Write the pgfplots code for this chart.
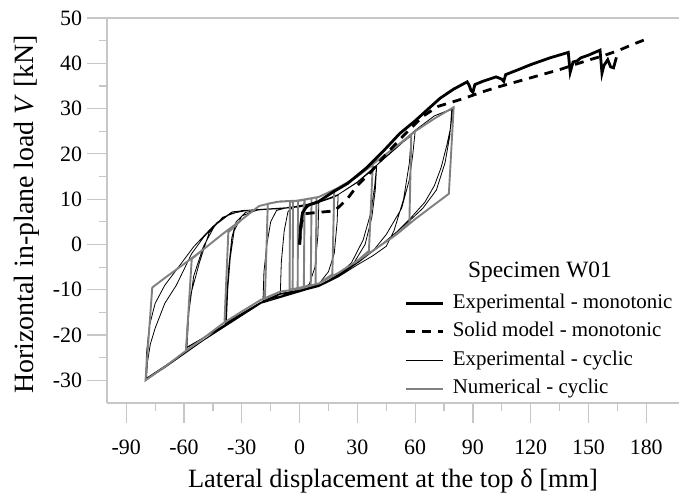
\documentclass[border=0pt]{standalone}
\usepackage{fontspec}
\setmainfont{Liberation Serif}
\usepackage{pgfplots}
\pgfplotsset{compat=1.18}
\definecolor{axgray}{gray}{0.78}
\definecolor{numgray}{gray}{0.5}
\begin{document}
\begin{tikzpicture}
\begin{axis}[
  name=ax,
  scale only axis, width=572bp, height=385bp,
  xmin=-100, xmax=197, ymin=-35, ymax=50,
  axis x line*=bottom, axis y line*=left,
  axis line style={axgray, line width=1.2bp, -},
  xtick={-90,-60,...,180}, ytick={-30,-20,...,50},
  minor x tick num=1, minor y tick num=1,
  tick align=outside,
  major tick length=19.5bp, minor tick length=8bp,
  tick style={axgray, line width=1.2bp},
  /pgf/number format/assume math mode=true,
  ticklabel style={font=\fontsize{22}{23}\selectfont},
  xticklabel style={yshift=-13.5bp},
  yticklabel style={xshift=-2bp},
  xlabel={Lateral displacement at the top δ [mm]},
  ylabel={Horizontal in-plane load \textit{V} [kN]},
  every axis x label/.style={at={(axis description cs:0.5,0)}, anchor=base, yshift=-84bp, font=\fontsize{26.5}{27}\selectfont},
  every axis y label/.style={at={(axis description cs:-0.1399,0.49)}, rotate=90, anchor=center, font=\fontsize{28}{29}\selectfont},
  legend style={draw=none, fill=none, at={(rel axis cs:0.521,0.283)}, anchor=north west,
    inner sep=0pt, outer sep=0pt, row sep=10bp, font=\fontsize{21}{22}\selectfont,
    nodes={inner sep=0pt, text height=14bp, text depth=4.5bp},
    /tikz/every odd column/.append style={column sep=8bp}},
  legend cell align=left,
  legend image code/.code={\draw[#1] (0bp,0bp) -- (37bp,0bp);},
]
% Experimental cyclic (thin black)
\addplot[black, line width=0.8bp, forget plot] coordinates {
(0,0) (1,7) (5,8.5) (10,9.2) (9.5,2) (8,-5) (5,-8.8) (0,-10) (-5,-10.4) (-10,-10.9)
(-9.5,-4) (-8,3) (-6,7.3) (-3,8.3) (0,8.6) (10,9.3) (17,10.3) (20,10.9)
(19.5,5) (18,-2) (15,-6) (10,-8.7) (0,-10.1) (-10,-10.8) (-19,-12.4)
(-18.5,-6) (-17,0) (-15,5) (-12,7.5) (-6,8.2) (0,8.5) (10,9.3) (20,11) (30,13.7) (40,17.2)
(39.3,12) (37.5,6) (34,0) (28,-4.2) (20,-7) (10,-9) (0,-10.2) (-10,-10.9) (-20,-12.8) (-30,-15.3) (-38.5,-17.5)
(-38,-12) (-36.8,-5) (-35.2,1.5) (-33,5) (-28,7.1) (-20,7.7) (-10,7.9) (0,8.3) (10,9.3) (20,11) (30,13.8) (40,17.4)
(39,13) (37,7) (33,1) (27,-4) (20,-6.8) (10,-9) (0,-10.1) (-20,-12.7) (-38,-17.2)
(-37.3,-10) (-36,-3) (-34,3) (-30,6.3) (-22,7.6) (0,8.3) (10,9.4) (20,11) (30,13.8) (40,17.5) (50,21.2) (60,25)
(58.8,20) (57,14.3) (53,8) (45,2.2) (38,-1.5) (31,-3.8) (20,-7) (10,-9.2) (0,-10.3) (-20,-13) (-40,-18) (-50,-20.6) (-59,-22.8)
(-58.3,-18) (-56.5,-11) (-52,-4) (-47,2.6) (-40,6) (-30,7.5) (-15,7.8) (0,8.3) (10,9.4) (20,11) (30,13.8) (40,17.5) (50,21.4) (58,24)
(57,18) (54,10) (49,3) (45,-0.4) (38,-2.5) (30,-4.5) (20,-7.2) (10,-9.3) (0,-10.4) (-20,-13) (-40,-18.1) (-58.5,-22.8)
(-57.5,-15) (-55,-7) (-50,-0.5) (-44,4.2) (-36,6.8) (-26,7.6) (0,8.3) (10,9.4) (20,11) (30,13.8) (40,17.5) (50,21.4) (60,25.2) (70,28.4) (79.5,30)
(78.5,26) (76.5,22) (73.5,17) (70,13) (65,9.3) (58,6) (50,2.6) (40,-0.9) (30,-4) (20,-7) (10,-9.2) (0,-10.4) (-10,-11) (-20,-13) (-30,-15.5) (-40,-18.2) (-50,-21.2) (-60,-24.2) (-70,-27.2) (-79.5,-29.8)
(-79,-26) (-77.5,-22) (-75,-18.5) (-70,-13) (-64,-9) (-56,-2) (-50,1.5) (-43,4.8) (-35,7.2) (-26,7.6) (-12,7.9) (0,8.3)
(10,9.4) (20,11) (30,13.8) (40,17.5) (50,21.4) (60,25.2) (70,28.4) (79,29.8)
(78,24) (75.5,18) (71,12) (64,8) (56,4.8) (45,0.8) (30,-4) (10,-9.2) (-20,-13) (-50,-21.2) (-79.8,-29.6)
(-79.5,-24) (-78,-18) (-75,-13) (-70,-9) (-62,-4.5) (-55,-0.5) (-45,4) (-38,6.3)
};
% Numerical cyclic (gray)
\addplot[numgray, line width=1.9bp, forget plot] coordinates {
(0,0) (2.6,9.9) (2.2,-9.5) (-1,-9.7) (-0.8,9.6) (6.2,10.2) (5.8,-9.1) (-3.6,-9.9) (-3.4,9.5)
(8.8,10.4) (8.3,-8.8) (-5.2,-10) (-5,9.4) (10,10.5) (18,12.1)
(17,-6.6) (10,-8.6) (0,-9.8) (-10,-10.4) (-18,-12) (-16.5,9) (-10,9.5) (0,9.7) (10,10.5) (20,12.5) (30,15) (38,17.6)
(36,-1.4) (30,-3.6) (20,-6.3) (10,-8.6) (0,-9.8) (-10,-10.4) (-20,-12.2) (-30,-14.8) (-39,-17.2)
(-37,2.7) (-30,5.5) (-21,8.5) (-12,9.4) (0,9.7) (10,10.5) (20,12.5) (30,15) (40,18.4) (50,21.6) (58,24.2)
(57,4.9) (50,2.1) (40,-0.8) (30,-3.6) (20,-6.3) (10,-8.6) (0,-9.8) (-10,-10.4) (-20,-12.2) (-30,-14.8) (-40,-17.5) (-50,-20.7) (-59,-23.5)
(-56,-3.2) (-50,-1.1) (-40,2.3) (-30,5.5) (-21,8.5) (-12,9.4) (0,9.7) (10,10.5) (20,12.5) (30,15) (40,18.4) (50,21.6) (60,25) (70,27.8) (80,30.3)
(77.5,11.2) (70,8.8) (60,5.6) (50,2.1) (40,-0.8) (30,-3.6) (20,-6.3) (10,-8.6) (0,-9.8) (-10,-10.4) (-20,-12.2) (-30,-14.8) (-40,-17.5) (-50,-20.7) (-60,-23.8) (-70,-27) (-80,-30)
(-76.5,-9.5) (-70,-7.4) (-60,-4.3) (-50,-1.1) (-40,2.3) (-30,5.5) (-21,8.5) (-12,9.4) (0,9.7) (10,10.5) (20,12.5) (30,15) (40,18.4) (50,21.6) (60,25) (70,27.8) (80,30.3)
};
% Solid model monotonic (dashed)
\addplot[black, line width=2.8bp, dash pattern=on 9bp off 7bp, forget plot] coordinates {
(0,0) (1,5) (3,6.8) (10,7.1) (18,7.4) (21,8.5) (25,10.2) (30,13) (37,16) (45,20) (55,24.5) (64,28.3) (72,30.5)
(85,32.2) (95,33.7) (102.5,34.7) (115,36.2) (125,37.4) (135,38.6) (142,39.6) (150,40.7) (158,41.7) (166,42.9) (172,44) (178,45) (182,45.6)
};
% Experimental monotonic (thick black)
\addplot[black, line width=2.8bp, forget plot] coordinates {
(0,0) (0.5,4) (1.5,7) (4,8.6) (10,9.5) (17,11.5) (25,13.5) (35,17) (45,21.3) (52,24.5) (60,27.3) (67,30) (73,32.3)
(80,34.3) (87,35.9) (88,35.2) (89,34) (90,33.6) (91,35.3) (95,36) (102,37) (105,36.5) (106,36) (107,37.5) (113,38.5)
(120,39.7) (130,41.2) (139.5,42.4) (140.5,38) (142,40.3) (144,40.5) (146,41.2) (150,41.8) (156,42.9) (157,37.8)
(158,39.5) (160,40.8) (161.5,39.2) (163,39) (164.5,41.3)
};
\draw[axgray, line width=1.2bp] (rel axis cs:0,1) -- (rel axis cs:1,1);
\addlegendimage{black, line width=2.8bp}
\addlegendentry{Experimental - monotonic}
\addlegendimage{black, line width=2.8bp, dash pattern=on 9bp off 7bp}
\addlegendentry{Solid model - monotonic}
\addlegendimage{black, line width=0.8bp}
\addlegendentry{Experimental - cyclic}
\addlegendimage{numgray, line width=1.9bp}
\addlegendentry{Numerical - cyclic}
\node[font=\fontsize{23.5}{24}\selectfont, anchor=base] at (axis cs:124.8,-7.25) {Specimen W01};
\end{axis}
\pgfresetboundingbox
\path ([shift={(-107bp,-92bp)}]ax.south west) rectangle ([shift={(0bp,18bp)}]ax.north east);
\end{tikzpicture}
\end{document}
